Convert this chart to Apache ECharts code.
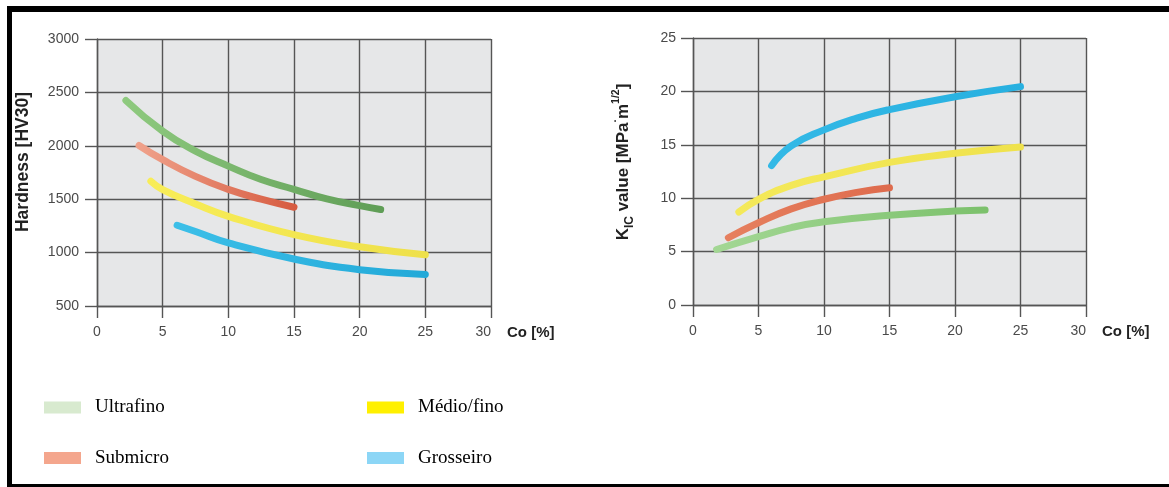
<!DOCTYPE html>
<html><head><meta charset="utf-8">
<script src="https://cdn.jsdelivr.net/npm/echarts@6/dist/echarts.min.js"></script>
<style>
html,body{margin:0;padding:0;background:#fff;overflow:hidden;width:1169px;height:487px}
#c{position:absolute;left:0;top:0;width:1169px;height:487px}
#frame{position:absolute;left:7px;top:6px;width:1175px;height:481px;box-sizing:border-box;border-top:6px solid #000;border-left:5px solid #000;border-bottom:3px solid #000;pointer-events:none}
</style></head><body>
<div id="c"></div><div id="frame"></div>
<script>
// ---- data ----
const seriesNames = ['Ultrafino', 'Submicro', 'Médio/fino', 'Grosseiro'];
const xAxisTitle = 'Co [%]';
const hardnessTitle = 'Hardness [HV30]';
const coMin = 0, coMax = 30, coStep = 5;
const hvMin = 500, hvMax = 3000, hvStep = 500;
const kicMin = 0, kicMax = 25, kicStep = 5;

// Hardness chart (left)
const hvCoUltra = [2.2, 5, 7.5, 10, 12.5, 15, 17.5, 20, 21.6];
const hvUltra   = [2425, 2137, 1950, 1810, 1684, 1593, 1503, 1440, 1403];
const hvCoSub   = [3.2, 5, 7.5, 10, 12.5, 15];
const hvSub     = [2003, 1870, 1714, 1592, 1500, 1425];
const hvCoMed   = [4.1, 5, 7.5, 10, 15, 20, 25];
const hvMed     = [1668, 1590, 1456, 1340, 1168, 1055, 980];
const hvCoGros  = [6.1, 7.5, 10, 15, 20, 25];
const hvGros    = [1256, 1197, 1090, 940, 840, 795];

// KIC chart (right)
const kCoUltra = [1.8, 5, 7.5, 10, 15, 20, 22.3];
const kUltra   = [5.2, 6.4, 7.25, 7.8, 8.4, 8.8, 8.9];
const kCoSub   = [2.7, 5, 7.5, 10, 12.5, 15];
const kSub     = [6.3, 7.7, 9.0, 9.9, 10.55, 10.97];
const kCoMed   = [3.5, 5, 7.5, 10, 15, 20, 25];
const kMed     = [8.7, 9.9, 11.2, 12.0, 13.35, 14.2, 14.8];
const kCoGros  = [6, 7.5, 10, 12.5, 15, 20, 25];
const kGros    = [13.05, 14.9, 16.4, 17.5, 18.3, 19.5, 20.45];

// ---- styles ----
const legendColors = ['#d8eacf', '#f4a68d', '#fff000', '#8cd6f6'];
const grad = (a, b) => new echarts.graphic.LinearGradient(0, 0, 1, 0, [{offset: 0, color: a}, {offset: 1, color: b}]);
const lineColors = [
  grad('#8fca7f', '#5f9d56'),
  grad('#f0a38c', '#d65a3f'),
  grad('#f8ed58', '#eee04a'),
  grad('#3cbfe8', '#22a9d8')
];
const lineColorsR = [
  grad('#a3d794', '#7cc16c'),
  grad('#e6805f', '#de6b4d'),
  grad('#f4e95a', '#efe24c'),
  grad('#33b9e6', '#27b0e0')
];
const gridColor = '#555';
const labelColor = '#4a4a4a';
const sansFont = '"Liberation Sans", Arial, sans-serif';

function mkSeries(name, xs, ys, idx, color, z) {
  return {
    name, type: 'line', xAxisIndex: idx, yAxisIndex: idx,
    data: xs.map((x, i) => [x, ys[i]]),
    smooth: 0.5, symbol: 'none', z: z,
    lineStyle: {width: 7, color: color, cap: 'round', join: 'round'},
    itemStyle: {color: legendColors[seriesNames.indexOf(name)]}
  };
}

function mkX(idx) {
  return {
    gridIndex: idx, type: 'value', min: coMin, max: coMax, interval: coStep,
    name: xAxisTitle, nameLocation: 'end', nameGap: 16,
    nameTextStyle: {fontFamily: sansFont, fontWeight: 'bold', fontSize: 15, color: '#222',
      align: 'left', verticalAlign: 'top', padding: [19, 0, 0, 0]},
    axisLine: {show: true, lineStyle: {color: gridColor, width: 1.4}},
    axisTick: {show: true, length: 12, lineStyle: {color: gridColor, width: 1.4}},
    splitLine: {show: true, lineStyle: {color: gridColor, width: 1.4}},
    axisLabel: {fontFamily: sansFont, fontSize: 14, color: labelColor, margin: 19, alignMaxLabel: 'right',
      formatter: v => String(v)}
  };
}
function mkY(idx, min, max, step, margin) {
  return {
    gridIndex: idx, type: 'value', min: min, max: max, interval: step,
    axisLine: {show: true, lineStyle: {color: gridColor, width: 1.4}},
    axisTick: {show: true, length: 12, lineStyle: {color: gridColor, width: 1.4}},
    splitLine: {show: true, lineStyle: {color: gridColor, width: 1.4}},
    axisLabel: {fontFamily: sansFont, fontSize: 14, color: labelColor, margin: margin,
      formatter: v => String(v)}
  };
}
function mkLegend(i, left, top, up) {
  return {
    data: [{name: seriesNames[i], itemStyle: {color: legendColors[i]}}],
    left: left, top: top, padding: 0, icon: 'rect', itemWidth: 37, itemHeight: 12,
    textStyle: {fontFamily: '"Liberation Serif", "Times New Roman", serif', fontSize: 19, color: '#000',
      lineHeight: 12, padding: up ? [0, 0, 14, 9] : [0, 0, 0, 9]}
  };
}

const chart = echarts.init(document.getElementById('c'), null, {renderer: 'canvas'});
chart.setOption({
  animation: false,
  backgroundColor: 'transparent',
  grid: [
    {left: 97, top: 39, width: 394, height: 267, show: true, backgroundColor: '#e6e7e8', borderWidth: 0},
    {left: 693, top: 38, width: 393, height: 267, show: true, backgroundColor: '#e6e7e8', borderWidth: 0}
  ],
  xAxis: [mkX(0), mkX(1)],
  yAxis: [mkY(0, hvMin, hvMax, hvStep, 18), mkY(1, kicMin, kicMax, kicStep, 17)],
  legend: [
    mkLegend(0, 44, 398, false),
    mkLegend(2, 367, 398, false),
    mkLegend(1, 44, 445, true),
    mkLegend(3, 367, 445, true)
  ],
  graphic: [
    {type: 'text', x: 23, y: 162, rotation: Math.PI / 2, z: 10,
      style: {text: hardnessTitle, fontFamily: sansFont, fontWeight: 'bold', fontSize: 17.5, fill: '#222',
        align: 'center', verticalAlign: 'middle'}},
    {type: 'text', x: 623, y: 162, rotation: Math.PI / 2, z: 10,
      style: {text: 'K{sub|IC} value [MPa{sup|·}m{sup|1/2}]', fontFamily: sansFont, fontWeight: 'bold', fontSize: 17,
        fill: '#222', align: 'center', verticalAlign: 'middle', lineHeight: 25,
        rich: {
          sub: {fontFamily: sansFont, fontWeight: 'bold', fontSize: 12, fill: '#222', verticalAlign: 'bottom', lineHeight: 12},
          sup: {fontFamily: sansFont, fontWeight: 'bold', fontSize: 10.5, fill: '#222', verticalAlign: 'top', lineHeight: 11}
        }}}
  ],
  series: [
    mkSeries('Ultrafino', hvCoUltra, hvUltra, 0, lineColors[0], 3),
    mkSeries('Submicro', hvCoSub, hvSub, 0, lineColors[1], 4),
    mkSeries('Médio/fino', hvCoMed, hvMed, 0, lineColors[2], 3),
    mkSeries('Grosseiro', hvCoGros, hvGros, 0, lineColors[3], 3),
    mkSeries('Ultrafino', kCoUltra, kUltra, 1, lineColorsR[0], 4),
    mkSeries('Submicro', kCoSub, kSub, 1, lineColorsR[1], 3),
    mkSeries('Médio/fino', kCoMed, kMed, 1, lineColorsR[2], 3),
    mkSeries('Grosseiro', kCoGros, kGros, 1, lineColorsR[3], 3)
  ]
});
</script>
</body></html>
